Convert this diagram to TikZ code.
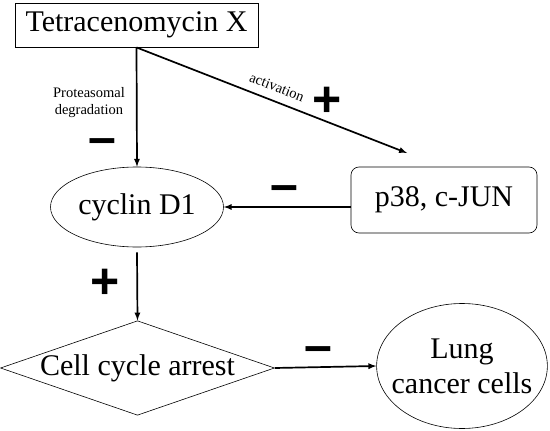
\documentclass[tikz,border=0pt]{standalone}
\usepackage{fontspec}
\setmainfont{Liberation Serif}
\newfontfamily\signfont{Liberation Sans}
\usetikzlibrary{arrows,shapes.geometric}
\tikzset{
  bigtext/.style={font=\fontsize{30}{35}\selectfont},
  smalltext/.style={font=\fontsize{14.5}{17}\selectfont},
  sign/.style={font=\signfont\bfseries\fontsize{50}{50}\selectfont, inner sep=0pt},
  link/.style={black,line width=1.7pt,-latex}
}
\begin{document}
\begin{tikzpicture}[x=1pt,y=-1pt]
  \useasboundingbox (0,0) rectangle (550,431);
  \node [bigtext,draw,line width=0.9pt,minimum width=243pt,minimum height=44pt,inner sep=0pt] (tcmx) at (136.5,25) {Tetracenomycin X};
  \node [bigtext,draw,ellipse,line width=0.6pt,minimum width=173pt,minimum height=80pt,inner sep=2pt] (cyclin) at (137,207) {cyclin D1};
  \node [bigtext,draw,rounded corners=8pt,line width=0.6pt,minimum width=186pt,minimum height=66pt] (p38) at (444,200) {p38, c-JUN};
  \node [bigtext,draw,diamond,line width=0.6pt,minimum width=269pt,minimum height=93pt,inner sep=0pt,aspect=2.9] (arrest) at (137.5,368) {Cell cycle arrest};
  \node [bigtext,draw,ellipse,line width=0.6pt,minimum width=170pt,minimum height=125pt,inner xsep=-10pt,inner ysep=0pt,align=center] (lung) at (462,366) {Lung\\cancer cells};
  \coordinate (act) at (407,153);
  % connectors
  \draw [link] (tcmx.south) -- (cyclin.north);
  \draw [link] (tcmx.south) -- node[smalltext,sloped,above=5pt] (actlabel) {activation} (act);
  \draw [link] (p38.west |- cyclin.east) -- (cyclin.east);
  \draw [link] (cyclin.south) ++(0,5) coordinate (cycbot) -- (arrest.north);
  \draw [link] (arrest.east) -- (lung.west);
  % labels
  \node [smalltext,align=center] (degr) at (89,103) {Proteasomal\\degradation};
  \node [sign] (minusa) at (102.5,147) {–};
  \node [sign] (plusa) at (327,102) {+};
  \node [sign] (minusb) at (284.5,194) {–};
  \node [sign] (plusb) at (105,284) {+};
  \node [sign] (minusc) at (318,355) {–};
\end{tikzpicture}
\end{document}
